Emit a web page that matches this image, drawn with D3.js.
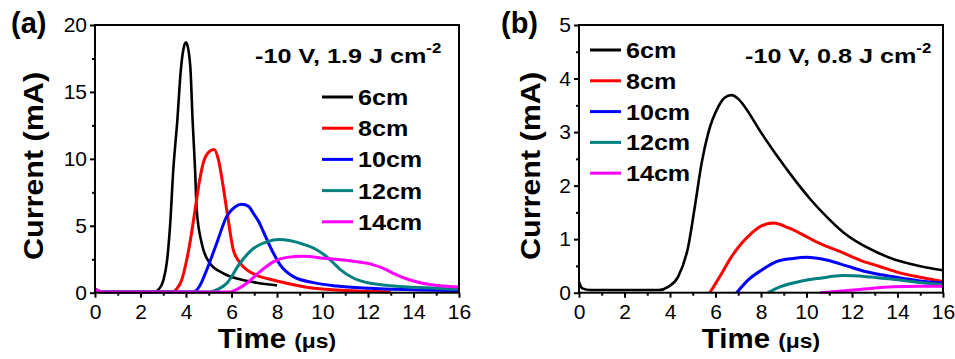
<!DOCTYPE html>
<html>
<head>
<meta charset="utf-8">
<script src="https://cdn.jsdelivr.net/npm/d3@7"></script>
<style>
  body { margin: 0; background: #fff; }
  svg text { font-family: Arial, 'Liberation Sans', sans-serif; }
</style>
</head>
<body>
<div id="chart"></div>
<script>
// --- DATA ---
const seriesNames  = ['6cm', '8cm', '10cm', '12cm', '14cm'];
const seriesColors = ['#000000', '#ff0000', '#0000ff', '#008080', '#ff00ff'];
const timeTicks    = [0, 2, 4, 6, 8, 10, 12, 14, 16];
const currentTicksA = [0, 5, 10, 15, 20];
const currentTicksB = [0, 1, 2, 3, 4, 5];

// panel (a): -10 V, 1.9 J cm-2   [time (us), current (mA)]
const a6cm = [[0,0.3],[0.3,0.05],[2.6,0.05],[2.8,0.25],[3.0,0.9],[3.17,2.44],[3.3,5.0],[3.44,9.15],
  [3.62,12.9],[3.77,16.6],[3.9,18.3],[4.0,18.7],[4.1,18.2],[4.2,16.6],[4.29,12.9],[4.4,9.15],
  [4.47,6.2],[4.69,3.7],[5.05,2.2],[5.64,1.45],[6.37,1.0],[7.1,0.75],[7.9,0.57],[8.0,0.55]];
const a8cm = [[0,0.25],[0.3,0.05],[3.4,0.05],[3.6,0.3],[3.8,0.9],[4.03,2.44],[4.2,4.0],[4.4,6.2],
  [4.6,8.4],[4.76,9.7],[5.0,10.5],[5.23,10.7],[5.43,9.9],[5.6,8.3],[5.79,6.2],[6.08,3.2],
  [6.3,2.4],[6.52,1.94],[7.1,1.3],[7.7,1.0],[8.43,0.7],[9.45,0.37],[10.6,0.2],[12,0.1],[13,0.05]];
const a10cm = [[0,0.25],[0.3,0.05],[4.3,0.05],[4.6,0.5],[4.91,1.7],[5.35,3.7],[5.79,5.7],[6.15,6.4],
  [6.45,6.6],[6.75,6.45],[6.96,5.93],[7.2,5.3],[7.4,4.56],[7.77,3.19],[8.13,2.1],[8.72,1.2],
  [9.6,0.75],[10.62,0.5],[12.1,0.33],[14.3,0.2],[16,0.15]];
const a12cm = [[0,0.25],[0.3,0.05],[5.05,0.05],[5.4,0.25],[5.79,0.7],[6.37,2.2],[6.96,3.3],[7.55,3.8],
  [8.1,3.97],[8.6,3.88],[9.16,3.62],[9.7,3.25],[10.1,2.8],[10.4,2.35],[10.77,1.75],[11.35,1.1],
  [12.1,0.7],[13.55,0.45],[15.0,0.33],[16,0.25]];
const a14cm = [[0,0.25],[0.3,0.05],[5.9,0.05],[6.3,0.3],[6.67,0.7],[7.25,1.57],[7.84,2.3],[8.43,2.64],
  [9.16,2.72],[10.18,2.55],[11.35,2.35],[12.2,2.1],[12.7,1.8],[13.11,1.45],[13.85,0.95],[14.58,0.65],
  [15.3,0.5],[16,0.42]];

// panel (b): -10 V, 0.8 J cm-2
const b6cm = [[0,0.2],[0.15,0.08],[0.5,0.05],[3.5,0.05],[3.92,0.11],[4.36,0.3],[4.8,0.86],[5.09,1.6],
  [5.39,2.42],[5.68,2.98],[6.12,3.47],[6.4,3.64],[6.7,3.69],[7.0,3.62],[7.29,3.47],[8.02,2.98],
  [8.6,2.62],[9.41,2.15],[10.14,1.76],[10.88,1.42],[11.61,1.13],[12.34,0.92],[13.07,0.76],
  [13.8,0.63],[14.54,0.54],[15.27,0.47],[16,0.42]];
const b8cm = [[5.75,0],[6.27,0.36],[6.7,0.67],[7.14,0.92],[7.58,1.11],[8.02,1.25],[8.54,1.3],[9.27,1.2],
  [9.85,1.08],[10.58,0.92],[11.46,0.77],[12.34,0.61],[13.22,0.49],[14.1,0.37],[14.98,0.29],[16,0.21]];
const b10cm = [[6.93,0],[7.44,0.24],[8.02,0.42],[8.68,0.58],[9.41,0.64],[10.0,0.66],[10.88,0.61],
  [11.76,0.5],[12.63,0.39],[13.8,0.3],[14.98,0.22],[16,0.18]];
const b12cm = [[8.3,0],[8.83,0.11],[9.7,0.21],[10.58,0.27],[11.61,0.32],[12.63,0.3],[13.8,0.25],
  [14.98,0.19],[16,0.15]];
const b14cm = [[10.6,0],[12.34,0.06],[13.8,0.11],[14.98,0.12],[16,0.12]];

// --- SVG ---
const W = 955, H = 359;
const svg = d3.select('#chart').append('svg')
  .attr('width', W).attr('height', H);

// bold labels in the figure are a bit wider than Arial, so stretch them horizontally
function wideText(parent, x, y, sx, rotate) {
  return parent.append('text')
    .attr('transform', `translate(${x},${y})${rotate ? ' rotate(-90)' : ''} scale(${sx},1)`)
    .attr('font-weight', 'bold');
}

// --- PANEL DRAWING ---
function drawPanel(p) {
  const x = d3.scaleLinear().domain([0, 16]).range([p.left, p.right]);
  const y = d3.scaleLinear().domain([0, p.yMax]).range([p.bottom, p.top]);
  const g = svg.append('g');

  // minor ticks (outward)
  g.append('g')
    .attr('transform', `translate(0,${p.bottom})`)
    .call(d3.axisBottom(x).tickValues(d3.range(1, 16, 2)).tickSize(3).tickFormat(''))
    .call(s => s.select('.domain').remove());
  g.append('g')
    .attr('transform', `translate(${p.left},0)`)
    .call(d3.axisLeft(y).tickValues(p.yMinor).tickSize(3).tickFormat(''))
    .call(s => s.select('.domain').remove());

  // major ticks + labels
  const xa = g.append('g')
    .attr('transform', `translate(0,${p.bottom})`)
    .call(d3.axisBottom(x).tickValues(timeTicks).tickSize(5).tickPadding(6));
  const ya = g.append('g')
    .attr('transform', `translate(${p.left},0)`)
    .call(d3.axisLeft(y).tickValues(p.yTicks).tickSize(5).tickPadding(3).tickFormat(d3.format('d')));
  [xa, ya].forEach(a => {
    a.select('.domain').remove();
    a.selectAll('text').attr('font-size', 21).attr('fill', '#000')
      .attr('font-family', "Arial, 'Liberation Sans', sans-serif");
  });
  g.selectAll('.tick line').attr('stroke', '#000').attr('stroke-width', 2);

  // curves
  const line = d3.line()
    .x(d => x(d[0])).y(d => y(d[1]))
    .curve(d3.curveMonotoneX);
  p.series.forEach((s, i) => {
    g.append('path')
      .datum(s)
      .attr('d', line)
      .attr('fill', 'none')
      .attr('stroke', seriesColors[i])
      .attr('stroke-width', i === 0 ? 2.6 : 3)
      .attr('stroke-linejoin', 'round');
  });

  // frame
  g.append('rect')
    .attr('x', p.left).attr('y', p.top)
    .attr('width', p.right - p.left).attr('height', p.bottom - p.top)
    .attr('fill', 'none').attr('stroke', '#000').attr('stroke-width', 2);

  // legend
  seriesNames.forEach((name, i) => {
    const cy = p.legY + i * p.legStep;
    g.append('line')
      .attr('x1', p.legX).attr('x2', p.legX + 31)
      .attr('y1', cy).attr('y2', cy)
      .attr('stroke', seriesColors[i]).attr('stroke-width', 3);
    wideText(g, p.legX + 36, cy + 8, 1.14)
      .attr('font-size', 22)
      .text(name);
  });

  // condition annotation
  const ann = wideText(g, p.annX, 63, 1.2).attr('font-size', 21);
  ann.append('tspan').text(p.ann);
  ann.append('tspan').attr('font-size', 14).attr('dy', -10).text('-2');

  // axis titles
  const xt = wideText(g, (p.left + p.right) / 2, 348, 1.09)
    .attr('text-anchor', 'middle');
  xt.append('tspan').attr('font-size', 27).text('Time ');
  xt.append('tspan').attr('font-size', 21).text('(\u03bcs)');

  wideText(g, p.yTitleX, 166, 1.13, true)
    .attr('text-anchor', 'middle')
    .attr('font-size', 27)
    .text('Current (mA)');

  // panel label
  g.append('text')
    .attr('x', p.labX).attr('y', 33)
    .attr('font-size', 29).attr('font-weight', 'bold')
    .text(p.label);
}

drawPanel({
  label: '(a)', labX: 11,
  left: 95, right: 459, top: 25, bottom: 292.7,
  yMax: 20, yTicks: currentTicksA, yMinor: [2.5, 7.5, 12.5, 17.5],
  series: [a6cm, a8cm, a10cm, a12cm, a14cm],
  legX: 322, legY: 97, legStep: 31.2,
  ann: '-10 V, 1.9 J cm', annX: 255,
  yTitleX: 43
});

drawPanel({
  label: '(b)', labX: 501,
  left: 579, right: 943, top: 25, bottom: 292.7,
  yMax: 5, yTicks: currentTicksB, yMinor: [0.5, 1.5, 2.5, 3.5, 4.5],
  series: [b6cm, b8cm, b10cm, b12cm, b14cm],
  legX: 590, legY: 50, legStep: 30.8,
  ann: '-10 V, 0.8 J cm', annX: 745,
  yTitleX: 540
});
</script>
</body>
</html>
